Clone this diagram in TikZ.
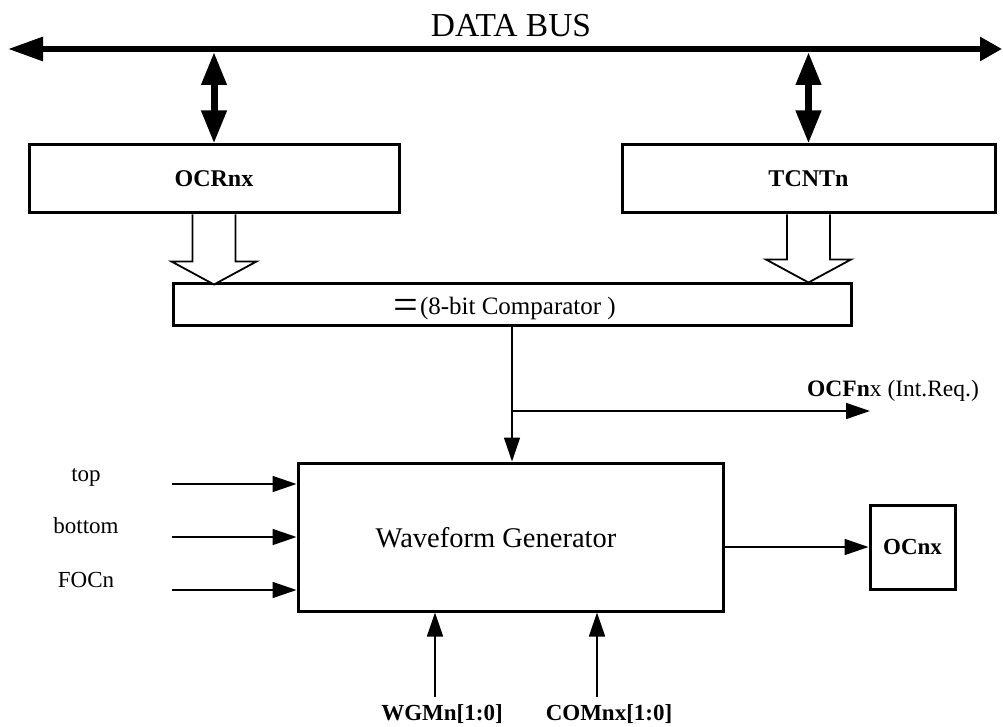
\documentclass[tikz,border=0pt]{standalone}
\usepackage{fontspec}
\setmainfont{Liberation Serif}
\usetikzlibrary{arrows.meta,calc}
\begin{document}
\begin{tikzpicture}[x=1pt,y=-1pt,
  blk/.style={draw, line width=3pt, inner sep=0pt, rectangle},
  lbl/.style={inner sep=0pt, anchor=base, font=\fontsize{23}{26}\selectfont},
  blbl/.style={inner sep=0pt, anchor=base, font=\fontsize{23}{26}\selectfont\bfseries},
  sig/.style={line width=1.6pt, -{Triangle[length=24pt,width=16pt]}},
  tapar/.style={line width=7pt, {Triangle[length=33pt,width=24pt]}-{Triangle[length=33pt,width=24pt]}},
  hollow/.style={draw, line width=1.8pt, fill=white, line join=miter}
]
\useasboundingbox (0,0) rectangle (1003,727);

% data bus
\coordinate (busL) at (8,49);
\coordinate (busR) at (1002,49);
\draw[line width=6pt, {Triangle[length=35pt,width=23pt]}-{Triangle[length=22pt,width=23pt]}] (busL) -- (busR);
\node[inner sep=0pt, anchor=base, font=\fontsize{33.5}{36}\selectfont] (busname) at (511,37) {DATA BUS};

% registers
\node[blk, minimum width=370pt, minimum height=68pt, font=\fontsize{24}{26}\selectfont\bfseries] (ocr) at (214,179) {OCRnx};
\node[blk, minimum width=373pt, minimum height=68pt, font=\fontsize{24}{26}\selectfont\bfseries] (tcnt) at (808.5,179) {TCNTn};

\coordinate (tapA) at (214,52);
\coordinate (tapB) at (808.5,52);
\draw[tapar] (tapA) -- (ocr.north);
\draw[tapar] (tapB) -- (tcnt.north);

% comparator
\node[blk, minimum width=678pt, minimum height=42pt] (cmp) at (512,304) {};
\node[inner sep=0pt, anchor=base west] (cmptxt) at (393,314)
  {{\fontsize{44}{44}\selectfont\raisebox{-5pt}{=}}\kern2pt{\fontsize{25}{30}\selectfont(8-bit Comparator )}};

% hollow bus arrows
\draw[hollow, shift={(ocr.south)}] (-21.5,0) -- (-21.5,47) -- (-42.5,47) -- (0,70) -- (42.5,47) -- (21.5,47) -- (21.5,0);
\draw[hollow, shift={(tcnt.south)}] (-21.5,0) -- (-21.5,45) -- (-42.5,45) -- (0,68) -- (42.5,45) -- (21.5,45) -- (21.5,0);

% waveform generator
\node[blk, minimum width=425pt, minimum height=148pt] (wg) at (510.5,537) {};
\node[inner sep=0pt, anchor=base, font=\fontsize{28.5}{32}\selectfont] (wgtxt) at (496,547) {Waveform Generator};

\draw[sig] (cmp.south) -- (cmp.south |- wg.north);
\coordinate (br) at (512,411);
\coordinate (ocfend) at (870,411);
\draw[sig] (br) -- (ocfend);
\node[inner sep=0pt, anchor=base west, font=\fontsize{23.5}{26}\selectfont] (ocf) at (807,396) {\textbf{OCFn}x (Int.Req.)};

% inputs
\coordinate (inTop) at (172,484);
\coordinate (inBot) at (172,537);
\coordinate (inFoc) at (172,590);
\draw[sig] (inTop) -- (inTop -| wg.west);
\draw[sig] (inBot) -- (inBot -| wg.west);
\draw[sig] (inFoc) -- (inFoc -| wg.west);
\node[lbl] (ltop) at (86,481) {top};
\node[lbl] (lbot) at (86,533) {bottom};
\node[lbl] (lfoc) at (86,587) {FOCn};

% output
\node[blk, minimum width=85pt, minimum height=84pt, font=\fontsize{23}{26}\selectfont\bfseries] (ocnx) at (912.5,547) {OCnx};
\draw[sig] (ocnx.west -| wg.east) -- (ocnx.west);

% control inputs
\coordinate (wgmS) at (435,697);
\coordinate (comS) at (597,697);
\draw[sig] (wgmS) -- (wgmS |- wg.south);
\draw[sig] (comS) -- (comS |- wg.south);
\node[blbl] (lwgm) at (442,720) {WGMn[1:0]};
\node[blbl] (lcom) at (609,720) {COMnx[1:0]};
\end{tikzpicture}
\end{document}
